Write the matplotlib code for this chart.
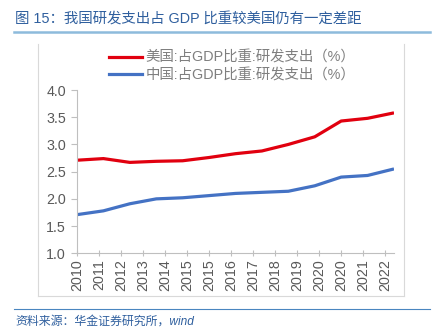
import matplotlib.pyplot as plt
from matplotlib.lines import Line2D

plt.rcParams['font.family'] = ['Liberation Sans', 'Noto Sans CJK SC', 'DejaVu Sans']

# data: R&D spending as % of GDP
years = list(range(2010, 2023))
us_vals = [2.71, 2.74, 2.67, 2.69, 2.70, 2.76, 2.83, 2.88, 3.00, 3.14, 3.43, 3.48, 3.58]
cn_vals = [1.71, 1.78, 1.91, 2.00, 2.02, 2.06, 2.10, 2.12, 2.14, 2.24, 2.40, 2.43, 2.55]

# date axis ticks every 10 months (offset in months from Dec 2010)
tick_months = [0, 10, 20, 30, 40, 50, 60, 70, 80, 90, 100, 110, 120, 130, 140]
tick_labels = ['2010', '2011', '2012', '2013', '2014', '2015', '2015', '2016',
               '2017', '2018', '2019', '2020', '2020', '2021', '2022']

labels = ['美国:占GDP比重:研发支出（%）', '中国:占GDP比重:研发支出（%）']
colors = ['#e1000f', '#4472c4']

fig = plt.figure(figsize=(4.38, 3.29), dpi=100)
ax = fig.add_axes([77 / 438, 1 - 253.3 / 329, 317 / 438, 163.3 / 329])

x = [(y - 2010) * 12 for y in years]
ax.plot(x, us_vals, color=colors[0], lw=2.3, solid_capstyle='butt')
ax.plot(x, cn_vals, color=colors[1], lw=2.3, solid_capstyle='butt')

ax.set_xlim(0, 144)
ax.set_ylim(1.0, 4.0)
ax.set_yticks([1.0, 1.5, 2.0, 2.5, 3.0, 3.5, 4.0])
ax.set_yticklabels(['1.0', '1.5', '2.0', '2.5', '3.0', '3.5', '4.0'])
ax.set_xticks(tick_months)
ax.set_xticklabels(tick_labels, rotation=90)

for s in ['top', 'right']:
    ax.spines[s].set_visible(False)
for s in ['left', 'bottom']:
    ax.spines[s].set_color('#bfbfbf')
    ax.spines[s].set_linewidth(0.8)
ax.tick_params(axis='y', direction='out', length=4, color='#bfbfbf',
               labelsize=10.3, labelcolor='#595959', pad=4)
ax.tick_params(axis='x', direction='inout', length=5, color='#bfbfbf',
               labelsize=10.3, labelcolor='#595959', pad=2)

# legend
handles = [Line2D([], [], color=c, lw=2.3) for c in colors]
fig.legend(handles, labels, loc='center', bbox_to_anchor=(232 / 438, 1 - 66.5 / 329),
           frameon=False, fontsize=10.4, labelcolor='#7f7f7f', handlelength=2.3,
           handletextpad=0.25, labelspacing=0.25)

# chart frame (left, right, bottom)
frame_kw = dict(color='#d9d9d9', lw=0.8, transform=fig.transFigure)
fig.add_artist(Line2D([38 / 438, 38 / 438], [1 - 44 / 329, 1 - 296 / 329], **frame_kw))
fig.add_artist(Line2D([404 / 438, 404 / 438], [1 - 44 / 329, 1 - 296 / 329], **frame_kw))
fig.add_artist(Line2D([38 / 438, 404 / 438], [1 - 296 / 329, 1 - 296 / 329], **frame_kw))

# title and footer
fig.text(15 / 438, 1 - 20 / 329, '图 15：我国研发支出占 GDP 比重较美国仍有一定差距',
         fontsize=10.4, color='#2f5f9e', va='center', ha='left')
fig.add_artist(Line2D([14 / 438, 430 / 438], [1 - 31.5 / 329, 1 - 31.5 / 329],
                      color='#8dbbdc', lw=1.8, transform=fig.transFigure))
fig.add_artist(Line2D([14 / 438, 430 / 438], [1 - 309 / 329, 1 - 309 / 329],
                      color='#4a86c0', lw=0.8, transform=fig.transFigure))
fig.text(15 / 438, 1 - 322 / 329, '资料来源：华金证券研究所，wind',
         fontsize=8.6, color='#2f5f9e', style='italic', va='center', ha='left')

fig.savefig('out.png', dpi=100)
